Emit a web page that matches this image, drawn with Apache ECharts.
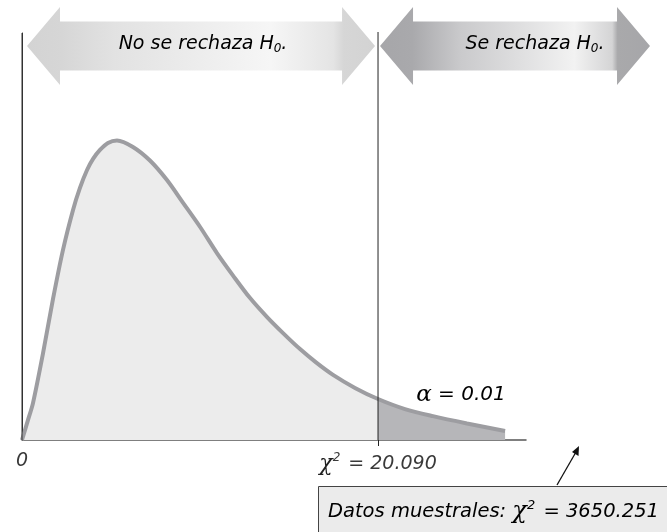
<!DOCTYPE html>
<html>
<head>
<meta charset="utf-8">
<script src="https://cdn.jsdelivr.net/npm/echarts@6/dist/echarts.min.js"></script>
<style>html,body{margin:0;padding:0;background:#fff;}#c{width:667px;height:532px;}</style>
</head>
<body>
<div id="c"></div>
<script>
// Curve (x in chi-square units, y as density)
const curveX = [0, 0.34, 0.62, 1.19, 1.75, 2.31, 2.88, 3.27, 3.67, 4.01, 4.40, 4.85, 5.36, 6.26, 7.22, 8.18, 9.09, 10.05, 11.00, 11.91, 12.87, 13.83, 14.73, 15.69, 16.59, 17.55, 18.79, 20.09, 21.61, 23.19, 25.11, 27.26];
const curveY = [0, 0.0074, 0.0136, 0.0321, 0.0520, 0.0700, 0.0848, 0.0929, 0.0995, 0.1036, 0.1069, 0.1095, 0.1104, 0.1080, 0.1030, 0.0958, 0.0874, 0.0785, 0.0689, 0.0606, 0.0523, 0.0453, 0.0394, 0.0335, 0.0286, 0.0240, 0.0192, 0.0151, 0.0114, 0.0088, 0.0061, 0.0033];
const criticalValue = 20.09;
const criticalText = '20.090';
const alphaText = '0.01';
const sampleStatText = '3650.251';
const leftRegionText = 'No se rechaza H';
const rightRegionText = 'Se rechaza H';
const axisMax = 28.44;
const yMax = 0.15;

const FONT = '"DejaVu Sans", sans-serif';
const MATH = '"DejaVu Serif", serif';
const TXT = '#3a3a3a';

const all = curveX.map((x, i) => [x, curveY[i]]);
const leftPart = all.filter(p => p[0] <= criticalValue);
const rightPart = all.filter(p => p[0] >= criticalValue);

const chart = echarts.init(document.getElementById('c'), null, {renderer: 'canvas'});
const SM = 0.3;
chart.setOption({
  animation: false,
  backgroundColor: '#ffffff',
  grid: {left: 22, right: 141, top: 33, bottom: 92},
  xAxis: {
    type: 'value', min: 0, max: axisMax,
    splitLine: {show: false},
    axisLine: {show: true, lineStyle: {color: '#555', width: 1.5}},
    axisTick: {show: true, customValues: [criticalValue], length: 6, inside: false, lineStyle: {color: '#222', width: 1}},
    axisLabel: {
      show: true, customValues: [0, criticalValue], margin: 12,
      formatter: v => v === 0 ? '{n|0}' : '{c|χ}{s|2}{n| = ' + criticalText + '}',
      rich: {
        n: {fontFamily: FONT, fontStyle: 'italic', fontSize: 19, color: TXT},
        c: {fontFamily: MATH, fontStyle: 'italic', fontSize: 22, color: '#222'},
        s: {fontFamily: FONT, fontStyle: 'italic', fontSize: 12, color: TXT, verticalAlign: 'top', padding: [0, 2, 12, 0]}
      }
    }
  },
  yAxis: {
    type: 'value', min: 0, max: yMax,
    splitLine: {show: false}, axisTick: {show: false}, axisLabel: {show: false},
    axisLine: {show: true, lineStyle: {color: '#333', width: 1}}
  },
  series: [
    {type: 'line', data: leftPart, smooth: SM, symbol: 'none', lineStyle: {width: 0, opacity: 0}, areaStyle: {color: '#ececec', opacity: 1}, z: 1},
    {type: 'line', data: rightPart, smooth: SM, symbol: 'none', lineStyle: {width: 0, opacity: 0}, areaStyle: {color: '#b6b6b9', opacity: 1}, z: 1},
    {type: 'line', data: all, smooth: SM, symbol: 'none', lineStyle: {width: 4, color: '#9d9da1'}, z: 3}
  ]
});

const px0 = chart.convertToPixel({xAxisIndex: 0}, 0);
const pxc = chart.convertToPixel({xAxisIndex: 0}, criticalValue);
const pyTop = chart.convertToPixel({yAxisIndex: 0}, yMax);
const pyBase = chart.convertToPixel({yAxisIndex: 0}, 0);

function arrow(x1, x2, yc, head, halfH, halfS, stops) {
  return {
    type: 'polygon', z: 10,
    shape: {points: [
      [x1, yc], [x1 + head, yc - halfH], [x1 + head, yc - halfS], [x2 - head, yc - halfS], [x2 - head, yc - halfH],
      [x2, yc], [x2 - head, yc + halfH], [x2 - head, yc + halfS], [x1 + head, yc + halfS], [x1 + head, yc + halfH]
    ]},
    style: {fill: new echarts.graphic.LinearGradient(0, 0, 1, 0, stops)}
  };
}

const yc = 46;
const subRich = {
  t: {fontFamily: FONT, fontStyle: 'italic', fontSize: 19, color: TXT},
  b: {fontFamily: FONT, fontStyle: 'italic', fontSize: 12, color: TXT, verticalAlign: 'bottom', padding: [10, 0, 0, 0]}
};

chart.setOption({
  graphic: [
    arrow(px0 + 5, pxc - 3, yc, 33, 39, 24.5, [
      {offset: 0, color: '#d3d3d3'}, {offset: 0.1, color: '#d6d6d6'}, {offset: 0.25, color: '#e2e2e2'},
      {offset: 0.7, color: '#f6f6f6'}, {offset: 0.88, color: '#e4e4e4'}, {offset: 0.91, color: '#d6d6d6'}, {offset: 1, color: '#d3d3d3'}]),
    arrow(pxc + 2, 650, yc, 33, 39, 24.5, [
      {offset: 0, color: '#a6a6a9'}, {offset: 0.12, color: '#a9a9ac'}, {offset: 0.3, color: '#cacacc'},
      {offset: 0.72, color: '#f2f2f2'}, {offset: 0.86, color: '#d4d4d5'}, {offset: 0.88, color: '#a9a9ab'}, {offset: 1, color: '#a6a6a9'}]),
    {type: 'line', z: 11, shape: {x1: px0, y1: pyTop, x2: px0, y2: pyBase}, style: {stroke: '#333', lineWidth: 1}},
    {type: 'line', z: 11, shape: {x1: pxc, y1: pyTop - 1, x2: pxc, y2: pyBase}, style: {stroke: '#222', lineWidth: 1}},
    {type: 'text', z: 12, x: (px0 + pxc) / 2 + 3, y: yc - 2,
     style: {text: '{t|' + leftRegionText + '}{b|0}{t|.}', rich: subRich, align: 'center', verticalAlign: 'middle'}},
    {type: 'text', z: 12, x: 535, y: yc - 2,
     style: {text: '{t|' + rightRegionText + '}{b|0}{t|.}', rich: subRich, align: 'center', verticalAlign: 'middle'}},
    {type: 'text', z: 12, x: 461, y: 395,
     style: {text: '{a|α}{n| = ' + alphaText + '}', align: 'center', verticalAlign: 'middle',
       rich: {a: {fontFamily: MATH, fontStyle: 'italic', fontSize: 23, color: '#222'},
              n: {fontFamily: FONT, fontStyle: 'italic', fontSize: 20, color: TXT}}}},
    {type: 'rect', z: 12, shape: {x: 318.5, y: 486.5, width: 400, height: 80}, style: {fill: '#ebebeb', stroke: '#444', lineWidth: 1}},
    {type: 'text', z: 13, x: 328, y: 512,
     style: {text: '{n|Datos muestrales: }{c|χ}{s|2}{n| = ' + sampleStatText + '}', align: 'left', verticalAlign: 'middle',
       rich: {n: {fontFamily: FONT, fontStyle: 'italic', fontSize: 19.5, color: TXT},
              c: {fontFamily: MATH, fontStyle: 'italic', fontSize: 24, color: '#111'},
              s: {fontFamily: FONT, fontStyle: 'italic', fontSize: 13, color: TXT, verticalAlign: 'top', padding: [0, 2, 13, 0]}}}},
    {type: 'line', z: 12, shape: {x1: 557, y1: 485, x2: 576, y2: 452}, style: {stroke: '#111', lineWidth: 1.3}},
    {type: 'polygon', z: 12, shape: {points: [[579, 446], [578.5, 456], [572, 452]]}, style: {fill: '#111'}}
  ]
});
</script>
</body>
</html>
